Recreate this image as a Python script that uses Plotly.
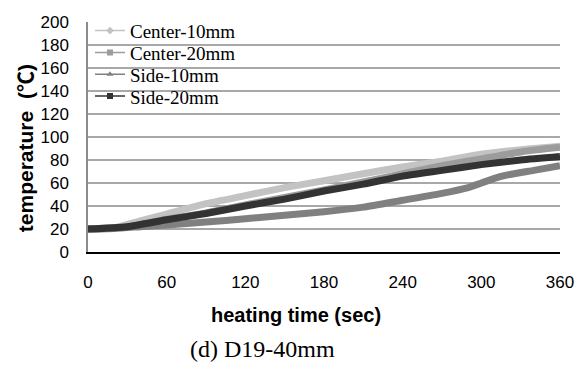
import plotly.graph_objects as go

# ---- data ----
time_c10 = [0, 20, 40, 60, 90, 120, 150, 180, 210, 240, 270, 300, 330, 360]
center_10 = [20, 21, 27, 33, 42, 49, 56, 62, 68, 74, 79, 85, 89, 92]

time_c20 = [0, 30, 60, 90, 120, 150, 180, 210, 240, 270, 300, 330, 360]
center_20 = [20, 22, 28.5, 34, 41, 47.5, 54, 61, 68, 75, 81, 87, 91]

time_s10 = [0, 20, 40, 60, 90, 120, 150, 180, 210, 240, 270, 290, 300, 310, 320, 340, 360]
side_10 = [20, 20.5, 22, 23.5, 26, 29, 32, 35, 39, 45, 51, 56, 60, 64, 67, 71, 75]

time_s20 = [0, 30, 60, 90, 120, 150, 180, 210, 240, 270, 300, 330, 360]
side_20 = [20, 22, 28, 33.5, 40, 46, 53, 59, 66, 71, 76, 80, 83]

series_names = ["Center-10mm", "Center-20mm", "Side-10mm", "Side-20mm"]
x_ticks = [0, 60, 120, 180, 240, 300, 360]
y_ticks = [0, 20, 40, 60, 80, 100, 120, 140, 160, 180, 200]

# ---- styling ----
colors = ["#c3c3c3", "#9c9c9c", "#808080", "#333333"]
symbols = ["diamond", "square", "triangle-up", "square"]
series = [(time_c10, center_10), (time_c20, center_20), (time_s10, side_10), (time_s20, side_20)]

L, R, T, B = 88, 27, 15, 115
W, H = 587, 367
pw, ph = W - L - R, H - T - B

def px(xp):
    return (xp - L) / pw

def py(yp):
    return (H - B - yp) / ph

fig = go.Figure()
for (xs, ys), c in zip(series, colors):
    fig.add_trace(go.Scatter(x=xs, y=ys, mode="lines", showlegend=False,
                             line=dict(color=c, width=7, shape="spline", smoothing=0.6),
                             hoverinfo="skip"))

legend_ids = ["legend", "legend2", "legend3", "legend4"]
legend_rows = [24, 46.5, 69, 91.5]
for name, c, s, lid in zip(series_names, colors, symbols, legend_ids):
    fig.add_trace(go.Scatter(x=[None], y=[None], mode="lines+markers", name=name,
                             legend=lid,
                             line=dict(color=c, width=1.5),
                             marker=dict(color=c, size=6, symbol=s)))

legend_font = dict(family="Liberation Serif, Times New Roman, serif", size=19, color="black")
legend_layouts = {}
for lid, row in zip(legend_ids, legend_rows):
    legend_layouts[lid] = dict(x=px(90), y=py(row), xanchor="left", yanchor="middle",
                               bgcolor="rgba(0,0,0,0)", borderwidth=0, font=legend_font, itemwidth=30)

fig.update_layout(
    width=W, height=H,
    margin=dict(l=L, r=R, t=T, b=B),
    paper_bgcolor="white", plot_bgcolor="white",
    showlegend=True,
    **legend_layouts,
    shapes=[dict(type="rect", xref="paper", yref="paper", layer="between",
                 x0=px(99), x1=px(244), y0=py(18), y1=py(101),
                 fillcolor="white", line=dict(width=0))],
    xaxis=dict(range=[0, 360], tickvals=x_ticks, ticktext=[str(v) for v in x_ticks],
               showgrid=False, zeroline=False, showline=True, linecolor="black", linewidth=1.5,
               ticks="", ticklabelstandoff=14,
               tickfont=dict(family="Liberation Sans, Arial, sans-serif", size=17, color="black")),
    yaxis=dict(range=[0, 200], tickvals=y_ticks, ticktext=[str(v) for v in y_ticks],
               showgrid=True, gridcolor="#a8a8a8", gridwidth=1.5, zeroline=False,
               showline=True, linecolor="#8c8c8c", linewidth=1.5,
               ticks="", ticklabelstandoff=14,
               tickfont=dict(family="Liberation Sans, Arial, sans-serif", size=17, color="black")),
    annotations=[
        dict(text="<b>heating time (sec)</b>", x=px(296), y=py(317), xref="paper", yref="paper",
             showarrow=False, xanchor="center", yanchor="middle",
             font=dict(family="Liberation Sans, Arial, sans-serif", size=20, color="black")),
        dict(text="(d) D19-40mm", x=px(262), y=py(352), xref="paper", yref="paper",
             showarrow=False, xanchor="center", yanchor="middle",
             font=dict(family="Liberation Serif, Times New Roman, serif", size=24, color="black")),
        dict(text="<b>temperature  (℃)</b>", x=px(25), y=py(145), xref="paper", yref="paper",
             showarrow=False, xanchor="center", yanchor="middle", textangle=-90,
             font=dict(family="Liberation Sans, Arial, Noto Sans CJK JP, sans-serif", size=21, color="black")),
    ],
)

fig.write_html("out.html")
